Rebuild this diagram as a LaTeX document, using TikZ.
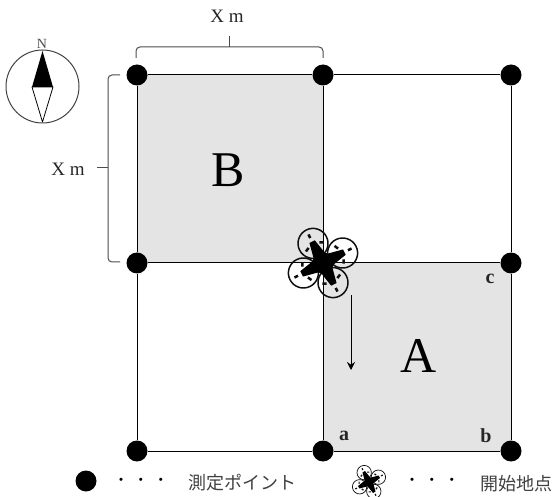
\documentclass[tikz,border=0pt]{standalone}
\usepackage{fontspec}
\setmainfont{Liberation Serif}
\newfontfamily\cjk{Noto Sans CJK JP}
\usetikzlibrary{arrows.meta}
\definecolor{areafill}{HTML}{E4E4E4}
\definecolor{dronefg}{HTML}{101010}
\tikzset{
  dronescale/.initial=1,
  pointdot/.style={circle, fill=black, inner sep=0pt, minimum size=21pt},
  arealabel/.style={font=\fontsize{50}{50}\selectfont},
  cornerlabel/.style={font=\fontsize{20}{20}\selectfont\bfseries, text=black!85},
  sizelabel/.style={font=\fontsize{19}{19}\selectfont, text=black!85},
  legendtext/.style={font=\fontsize{18}{18}\selectfont\cjk, text=black!75},
  legenddots/.style={font=\fontsize{15}{15}\selectfont\cjk},
  sizebrace/.style={draw=black!70, line width=1pt, rounded corners=4pt},
  drone/.pic={
    \foreach \ang in {0,90,180,270} {
      \begin{scope}[rotate=\ang+27]
        \draw[dronefg, line width=1.5pt*\pgfkeysvalueof{/tikz/dronescale}] (22,0) circle (15);
        \draw[dronefg, line width=2.5pt*\pgfkeysvalueof{/tikz/dronescale}] (18,-10) -- (20,-6) (18,10) -- (20,6) (32,0) -- (28,0);
        \fill[black] (0,-8) -- (24,-3) -- (24,3) -- (0,8) -- cycle;
      \end{scope}
    }
    \fill[black] (0,0) circle (10);
  }
}

\begin{document}
\begin{tikzpicture}[x=1pt, y=-1pt, line join=round, >=Stealth]
  \useasboundingbox (0,0) rectangle (552,497);
  % measuring points
  \coordinate (g11) at (137,75);
  \coordinate (g12) at (323,75);
  \coordinate (g13) at (511,75);
  \coordinate (g21) at (137,263);
  \coordinate (g22) at (323,263);
  \coordinate (g23) at (511,263);
  \coordinate (g31) at (137,451);
  \coordinate (g32) at (323,451);
  \coordinate (g33) at (511,451);
  \fill[areafill] (g11) rectangle (g22);
  \fill[areafill] (g22) rectangle (g33);
  \node[pointdot] (p11) at (g11) {};
  \node[pointdot] (p12) at (g12) {};
  \node[pointdot] (p13) at (g13) {};
  \node[pointdot] (p21) at (g21) {};
  \node[pointdot] (p22) at (g22) {};
  \node[pointdot] (p23) at (g23) {};
  \node[pointdot] (p31) at (g31) {};
  \node[pointdot] (p32) at (g32) {};
  \node[pointdot] (p33) at (g33) {};
  \draw[line width=1pt] (p11) -- (p12) -- (p13) -- (p23) -- (p33) -- (p32) -- (p31) -- (p21) -- (p11);
  \draw[line width=1pt] (p12) -- (p22) -- (p32);
  \draw[line width=1pt] (p21) -- (p22) -- (p23);
  % size braces
  \coordinate (topl) at (136,58);
  \coordinate (topr) at (323,58);
  \coordinate (topmid) at (229,47);
  \coordinate (toptip) at (229,36);
  \coordinate (leftt) at (120,75);
  \coordinate (leftb) at (120,262);
  \coordinate (leftmid) at (108,168);
  \coordinate (lefttip) at (97,168);
  \draw[sizebrace] (topl) -- (136,47) -- (323,47) -- (topr);
  \draw[sizebrace] (topmid) -- (toptip);
  \draw[sizebrace] (leftt) -- (108,75) -- (108,262) -- (leftb);
  \draw[sizebrace] (leftmid) -- (lefttip);
  \node[sizelabel] (topsize) at (227,16.5) {X m};
  \node[sizelabel] (leftsize) at (68,169) {X m};
  % compass
  \draw[line width=1pt, black!75] (42.5,86.5) circle (36.5);
  \fill[black] (42.5,51) -- (32,87) -- (53,87) -- cycle;
  \draw[line width=0.8pt] (32,87) -- (42.5,122) -- (53,87) -- cycle;
  \node[font=\fontsize{14}{14}\selectfont, inner sep=0pt, text=black!70] (north) at (42,44) {N};
  % labels
  \node[arealabel] (areab) at (228,170) {B};
  \node[arealabel] (areaa) at (418.5,356) {A};
  \node[cornerlabel] (cornera) at (344,436) {a};
  \node[cornerlabel] (cornerb) at (486,436) {b};
  \node[cornerlabel] (cornerc) at (490,279) {c};
  \coordinate (arrowtop) at (351,295);
  \coordinate (arrowend) at (351,370);
  \draw[-{Stealth[length=8pt,width=8pt]}, line width=0.8pt] (arrowtop) -- (arrowend);
  \pic at (323,263) {drone};
  % legend
  \node[pointdot] (legdot) at (86,481) {};
  \node[legenddots] (legdotsa) at (141,482) {・\hspace{5pt}・\hspace{5pt}・};
  \node[legendtext] (legpoint) at (242,483) {測定ポイント};
  \pic[scale=0.48, dronescale=0.48] at (369,482) {drone};
  \node[legenddots] (legdotsb) at (432,482) {・\hspace{5pt}・\hspace{5pt}・};
  \node[legendtext] (legstart) at (516,484) {開始地点};
\end{tikzpicture}
\end{document}
